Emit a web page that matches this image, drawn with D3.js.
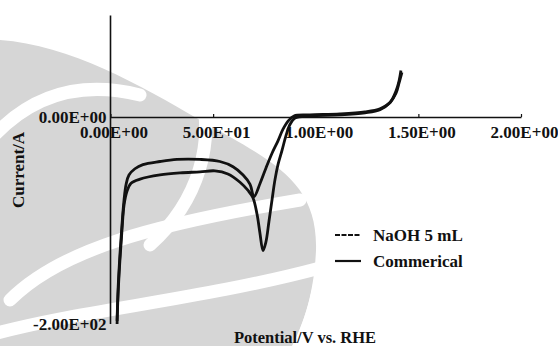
<!DOCTYPE html>
<html>
<head>
<meta charset="utf-8">
<script src="https://cdn.jsdelivr.net/npm/d3@7"></script>
<style>
  html, body { margin: 0; padding: 0; background: #fff; }
  svg { display: block; }
  text { font-family: "Liberation Serif", "Times New Roman", serif; fill: #111; }
</style>
</head>
<body>
<svg id="chart" width="558" height="346"></svg>
<script>
// Potential (V vs. RHE) and current for each sweep
const naohPotential = [0.032, 0.037, 0.046, 0.056, 0.066, 0.076, 0.090, 0.119, 0.158, 0.241, 0.324, 0.436, 0.533, 0.597, 0.646, 0.680, 0.699, 0.729, 0.758, 0.787, 0.816, 0.840, 0.865, 0.894, 0.972, 1.118, 1.240, 1.313, 1.362, 1.391, 1.406, 1.415];
const naohCurrent   = [-197, -166, -133, -104, -80, -65, -56, -50, -46, -43, -41, -41, -43, -48, -56, -65, -77, -64, -49, -35, -23, -12, -4, 1, 2, 3, 5, 8, 14, 25, 35, 45];

const commPotential = [0.032, 0.037, 0.046, 0.056, 0.066, 0.080, 0.100, 0.144, 0.241, 0.339, 0.436, 0.509, 0.572, 0.631, 0.670, 0.694, 0.714, 0.728, 0.743, 0.757, 0.772, 0.787, 0.801, 0.816, 0.836, 0.855, 0.875, 0.899, 0.972, 1.118, 1.240, 1.313, 1.362, 1.391, 1.406, 1.420];
const commCurrent   = [-200, -171, -138, -109, -85, -72, -64, -60, -56, -54, -53, -52, -55, -63, -71, -78, -94, -112, -129, -121, -101, -80, -61, -46, -32, -18, -7, -1, 1, 2, 4, 7, 14, 23, 33, 43];

const xTickValues = [0, 0.5, 1.0, 1.5, 2.0];
const xTickLabels = ["0.00E+00", "5.00E+01", "1.00E+00", "1.50E+00", "2.00E+00"];
const yTickValues = [0, -200];
const yTickLabels = ["0.00E+00", "-2.00E+02"];
const yAxisTop = 98;

const seriesNames = ["NaOH 5 mL", "Commerical"];

const svg = d3.select("#chart");

// soft grey backdrop behind the plot
const bg = svg.append("g").attr("class", "backdrop");
bg.append("path")
  .attr("d", "M0,40 C70,45 140,85 200,120 C270,160 318,180 316,250 C314,300 300,330 292,346 L0,346 Z")
  .attr("fill", "#d6d6d6");
const swooshes = [
  "M-10,140 C30,95 80,80 140,95",
  "M10,300 C60,250 150,225 300,200",
  "M-10,335 C80,310 200,300 320,268",
  "M200,90 C215,140 200,200 150,245",
  "M300,140 C335,190 330,280 300,346"
];
bg.selectAll("path.sw").data(swooshes).enter().append("path")
  .attr("class", "sw")
  .attr("d", d => d)
  .attr("fill", "none")
  .attr("stroke", "#fff")
  .attr("stroke-width", 13)
  .attr("stroke-linecap", "round");

const x = d3.scaleLinear().domain([0, 2]).range([110.5, 521]);
const y = d3.scaleLinear().domain([0, -200]).range([117, 324]);

// y axis line runs above zero up to the top of the plot
svg.append("line")
  .attr("x1", x(0)).attr("x2", x(0))
  .attr("y1", y(yAxisTop)).attr("y2", y(-200))
  .attr("stroke", "#111").attr("stroke-width", 1.6);

// x axis drawn along I = 0
const xAxis = d3.axisBottom(x)
  .tickValues(xTickValues)
  .tickFormat((d, i) => xTickLabels[i])
  .tickSizeInner(-3)
  .tickSizeOuter(0)
  .tickPadding(9);
const gx = svg.append("g")
  .attr("transform", `translate(0,${y(0)})`)
  .call(xAxis);
gx.select(".domain").attr("stroke", "#111").attr("stroke-width", 1.6);
gx.selectAll(".tick line").attr("stroke", "#111").attr("stroke-width", 1.2);
gx.selectAll(".tick text")
  .attr("dx", 3)
  .style("font-family", "Liberation Serif, serif")
  .style("font-size", "17px")
  .style("font-weight", "bold")
  .attr("fill", "#111");

const yAxis = d3.axisLeft(y)
  .tickValues(yTickValues)
  .tickFormat((d, i) => yTickLabels[i])
  .tickSize(0)
  .tickPadding(4);
const gy = svg.append("g")
  .attr("transform", `translate(${x(0)},0)`)
  .call(yAxis);
gy.select(".domain").remove();
gy.selectAll(".tick text")
  .style("font-family", "Liberation Serif, serif")
  .style("font-size", "17px")
  .style("font-weight", "bold")
  .attr("fill", "#111");

// sweeps
const line = d3.line()
  .x(d => x(d[0]))
  .y(d => y(d[1]))
  .curve(d3.curveCatmullRom.alpha(0.5));

const naoh = naohPotential.map((v, i) => [v, naohCurrent[i]]);
const comm = commPotential.map((v, i) => [v, commCurrent[i]]);

svg.append("path").datum(comm)
  .attr("d", line)
  .attr("fill", "none").attr("stroke", "#111")
  .attr("stroke-width", 2.8).attr("stroke-linejoin", "round");
svg.append("path").datum(naoh)
  .attr("d", line)
  .attr("fill", "none").attr("stroke", "#111")
  .attr("stroke-width", 2.8).attr("stroke-linejoin", "round");

// axis titles
svg.append("text")
  .attr("transform", "translate(24,170) rotate(-90)")
  .attr("text-anchor", "middle")
  .style("font-size", "17px").style("font-weight", "bold")
  .text("Current/A");
svg.append("text")
  .attr("x", 305).attr("y", 343)
  .attr("text-anchor", "middle")
  .style("font-size", "16.5px").style("font-weight", "bold")
  .text("Potential/V vs. RHE");

// legend
const legend = svg.append("g").attr("transform", "translate(335,235)");
const dashes = ["5,1.5", null];
seriesNames.forEach((name, i) => {
  const row = legend.append("g").attr("transform", `translate(0,${i * 26})`);
  row.append("line")
    .attr("x1", 0).attr("x2", 26).attr("y1", 0).attr("y2", 0)
    .attr("stroke", "#111").attr("stroke-width", 2.2)
    .attr("stroke-dasharray", dashes[i]);
  row.append("text")
    .attr("x", 38).attr("y", 5.5)
    .style("font-size", "17px").style("font-weight", "bold")
    .text(name);
});
</script>
</body>
</html>
